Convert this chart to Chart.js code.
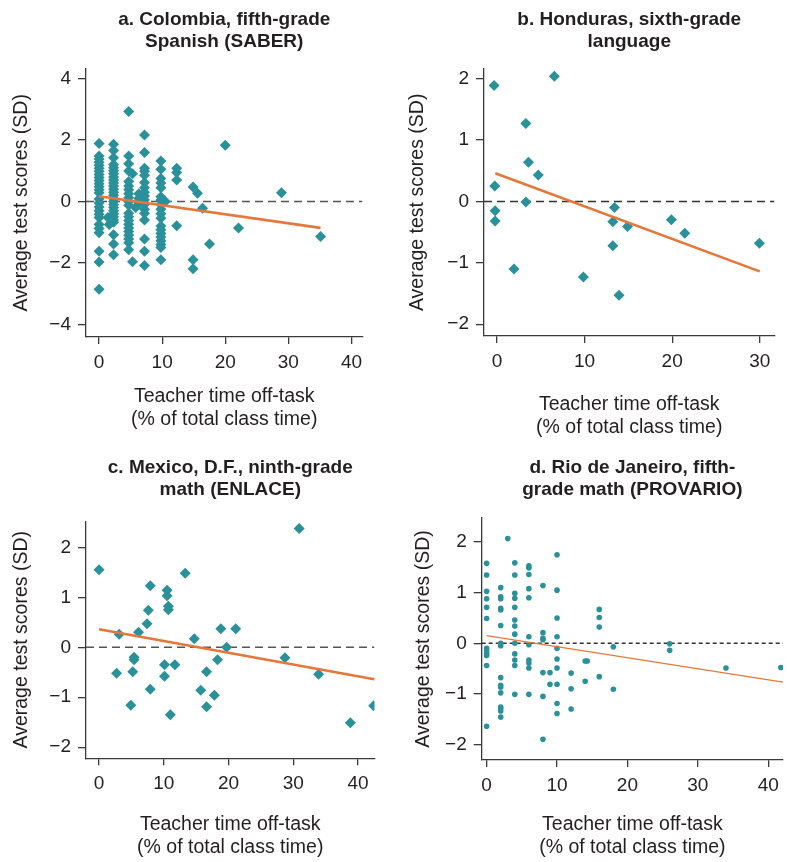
<!DOCTYPE html>
<html>
<head>
<meta charset="utf-8">
<script src="https://cdn.jsdelivr.net/npm/chart.js@4.4.1/dist/chart.umd.min.js"></script>
<style>
  html, body { margin: 0; padding: 0; background: #fff; width: 787px; height: 862px; overflow: hidden; }
  canvas { position: absolute; }
</style>
</head>
<body>
<canvas id="ca" width="368" height="440" style="left:0px;top:0px"></canvas>
<canvas id="cb" width="385" height="440" style="left:395px;top:0px"></canvas>
<canvas id="cc" width="380" height="422" style="left:0px;top:440px"></canvas>
<canvas id="cd" width="392" height="422" style="left:395px;top:440px"></canvas>
<script>
// ---------- DATA ----------
// a. Colombia, fifth-grade Spanish (SABER)
const colombiaX = [
  0,0,0,0,0,0,0,0,0,0,0,0,0,0,0,0,0,0,0,0,0,0,0,0,0,0,
  2.3,2.3,2.3,2.3,2.3,2.3,2.3,2.3,2.3,2.3,2.3,2.3,2.3,2.3,2.3,2.3,2.3,2.3,2.3,2.3,2.3,2.3,2.3,2.3,2.3,2.3,
  1.4,1.6,1.9,
  4.7,4.7,4.7,4.7,4.7,4.7,4.7,4.7,4.7,4.7,4.7,4.7,4.7,4.7,4.7,4.7,4.7,4.7,4.7,4.7,4.7,
  5.3,5.3,5.8,
  7.2,7.2,7.2,7.2,7.2,7.2,7.2,7.2,7.2,7.2,7.2,7.2,7.2,7.2,7.2,7.2,7.2,
  6.3,6.3,6.3,
  9.8,9.8,9.8,9.8,9.8,9.8,9.8,9.8,9.8,9.8,9.8,9.8,9.8,9.8,9.8,9.8,9.8,9.8,9.8,
  10.5,
  12.3,12.3,12.3,12.3,
  14.9,15.6,16.4,17.5,14.9,14.9,20,22.1,28.9,35.1
];
const colombiaY = [
  1.89,1.48,1.38,1.28,1.18,1.08,0.98,0.88,0.78,0.68,0.58,0.48,0.38,0.28,0.08,-0.05,-0.18,-0.3,-0.42,-0.52,-0.75,-0.88,-1.02,-1.62,-1.97,-2.86,
  1.86,1.66,1.42,1.2,1.1,1.0,0.9,0.8,0.7,0.6,0.5,0.4,0.3,0.2,0.1,0.0,-0.1,-0.2,-0.3,-0.4,-0.5,-0.6,-0.68,-1.08,-1.38,-1.73,
  -0.52,-0.75,-0.62,
  2.93,1.48,1.23,0.99,0.65,0.5,0.38,0.25,0.12,0.0,-0.12,-0.38,-0.5,-0.62,-0.74,-0.86,-0.98,-1.1,-1.22,-1.34,-1.57,
  0.9,-1.96,-0.2,
  2.16,1.59,1.08,0.98,0.85,0.62,0.45,0.3,0.18,0.05,-0.1,-0.25,-0.38,-0.6,-1.22,-1.62,-2.08,
  0.25,0.1,-0.05,
  1.32,1.05,0.75,0.6,0.45,0.15,0.05,-0.1,-0.25,-0.4,-0.55,-0.8,-0.92,-1.04,-1.16,-1.28,-1.4,-1.5,-1.9,
  0.0,
  1.08,0.94,0.70,-0.79,
  0.47,0.27,-0.22,-1.38,-1.90,-2.19,1.83,-0.86,0.28,-1.14
];
const colombiaFitX = [0, 35.1];
const colombiaFitY = [0.17, -0.86];

// b. Honduras, sixth-grade language
const hondurasX = [-0.34,6.54,3.29,3.59,4.71,-0.26,-0.22,-0.22,3.29,1.94,9.86,13.41,13.22,14.9,13.22,13.93,19.91,21.44,29.96];
const hondurasY = [1.89,2.04,1.27,0.64,0.43,0.25,-0.15,-0.32,-0.01,-1.10,-1.23,-0.10,-0.33,-0.41,-0.72,-1.53,-0.30,-0.52,-0.68];
const hondurasFitX = [-0.2, 30];
const hondurasFitY = [0.46, -1.14];

// c. Mexico, D.F., ninth-grade math (ENLACE)
const mexicoX = [0,30.9,13.3,7.9,10.5,10.5,10.7,10.7,7.6,7.4,6.1,3.1,14.7,18.8,21.1,19.7,5.4,5.4,18.3,28.7,2.7,5.2,10.1,11.7,10.1,16.6,33.9,7.9,15.7,17.8,4.9,16.6,11.0,42.4,38.8];
const mexicoY = [1.55,2.38,1.48,1.23,1.14,1.03,0.82,0.75,0.74,0.47,0.30,0.26,0.17,0.37,0.37,0.0,-0.20,-0.25,-0.25,-0.21,-0.52,-0.49,-0.35,-0.35,-0.58,-0.49,-0.54,-0.84,-0.86,-0.96,-1.16,-1.19,-1.35,-1.17,-1.51];
const mexicoFitX = [0, 42.5];
const mexicoFitY = [0.36, -0.64];

// d. Rio de Janeiro, fifth-grade math (PROVARIO)
const rioX = [
  0,0,0,0,0,0,0,0,0,0,0,0,
  2,2,2,2,2,2,2,2,2,2,2,2,2,2,2,2,
  3,
  4,4,4,4,4,4,4,4,4,4,4,4,4,
  6,6,6,6,6,6,6,6,6,6,6,
  8,8,8,8,8,8,8,
  9,9,
  10,10,10,10,10,10,10,10,10,10,
  12,12,12,
  14,14,14.3,
  16,16,16,16,
  18,18,
  26,26,
  34,41.8
];
const rioY = [
  1.58,1.35,1.03,0.88,0.71,0.49,-0.10,-0.15,-0.20,-0.24,-0.44,-1.64,
  1.10,0.92,0.88,0.69,0.66,0.35,0.0,-0.05,-0.68,-0.83,-0.87,-0.98,-1.26,-1.29,-1.34,-1.46,
  2.07,
  1.59,1.35,0.99,0.89,0.71,0.46,0.34,0.18,0.0,-0.21,-0.33,-0.44,-1.01,
  1.53,1.49,1.36,1.08,0.90,0.13,-0.03,-0.33,-0.39,-0.49,-1.01,
  1.14,0.21,0.10,0.07,-0.58,-1.05,-1.90,
  -0.58,-0.81,
  1.75,1.05,0.50,0.13,-0.10,-0.31,-0.49,-0.81,-1.19,-1.39,
  -0.59,-0.90,-1.30,
  -0.35,-0.75,-0.35,
  0.67,0.51,0.32,-0.66,
  -0.07,-0.91,
  -0.01,-0.14,
  -0.49,-0.48
];
const rioFitX = [0, 42.1];
const rioFitY = [0.15, -0.77];

// tick labels
const ticksA_X = [0, 10, 20, 30, 40];
const ticksA_Y = [-4, -2, 0, 2, 4];
const ticksB_X = [0, 10, 20, 30];
const ticksB_Y = [-2, -1, 0, 1, 2];
const ticksC_X = [0, 10, 20, 30, 40];
const ticksC_Y = [-2, -1, 0, 1, 2];
const ticksD_X = [0, 10, 20, 30, 40];
const ticksD_Y = [-2, -1, 0, 1, 2];

// ---------- STYLE ----------
const TEAL = '#2a919b';
const ORANGE = '#e6773a';
const INK = '#231f20';
const AXIS = '#3a3a3a';
const FONT = "'Liberation Sans', Arial, sans-serif";
const X_TITLE = ['Teacher time off-task', '(% of total class time)'];
const Y_TITLE = 'Average test scores (SD)';

function pts(xs, ys) { return xs.map((x, i) => ({ x: x, y: ys[i] })); }
function fmt(v) { return v < 0 ? '\u2212' + Math.abs(v) : String(v); }

function makeChart(id, c) {
  return new Chart(document.getElementById(id), {
    type: 'scatter',
    data: {
      datasets: [
        { data: pts(c.fitX, c.fitY), showLine: true, borderColor: ORANGE, borderWidth: c.fitW,
          pointRadius: 0, fill: false, clip: false },
        { data: pts(c.x, c.y), showLine: false, pointStyle: c.style, pointRadius: c.r,
          backgroundColor: TEAL, borderColor: TEAL, borderWidth: 0 },
        { data: [{ x: c.xMin, y: 0 }, { x: c.xMax, y: 0 }], showLine: true, borderColor: c.dashColor,
          borderWidth: c.dashW, borderDash: c.dash, pointRadius: 0, fill: false }
      ]
    },
    options: {
      responsive: false, animation: false, events: [],
      layout: { padding: 0 },
      plugins: {
        legend: { display: false },
        tooltip: { enabled: false },
        title: {
          display: true, fullSize: false, text: c.title, color: INK,
          font: { family: FONT, size: 19, weight: 'bold', lineHeight: 1.15 },
          padding: { top: c.tTop, bottom: c.tBottom }
        }
      },
      scales: {
        x: {
          type: 'linear', position: 'bottom', min: c.xMin, max: c.xMax,
          afterBuildTicks: s => { s.ticks = c.xTicks.map(v => ({ value: v })); },
          afterFit: s => { s.height = c.xH; s.paddingLeft = 0; s.paddingRight = 0; },
          grid: { display: true, drawOnChartArea: false, drawTicks: true, tickLength: 7, color: AXIS, lineWidth: 1.3 },
          border: { display: true, color: AXIS, width: 1.3 },
          ticks: { color: INK, font: { family: FONT, size: 19 }, padding: 7, maxRotation: 0, autoSkip: false,
                   callback: v => fmt(v) },
          title: { display: true, text: X_TITLE, color: INK, font: { family: FONT, size: 19.5, lineHeight: 1.17 },
                   padding: { top: 0, bottom: c.xtPad } }
        },
        y: {
          type: 'linear', position: 'left', min: c.yMin, max: c.yMax,
          afterBuildTicks: s => { s.ticks = c.yTicks.map(v => ({ value: v })); },
          afterFit: s => { s.width = c.yW; s.paddingTop = 0; s.paddingBottom = 0; },
          grid: { display: true, drawOnChartArea: false, drawTicks: true, tickLength: 8, color: AXIS, lineWidth: 1.3 },
          border: { display: true, color: AXIS, width: 1.3 },
          ticks: { color: INK, font: { family: FONT, size: 19 }, padding: 7, autoSkip: false,
                   callback: v => fmt(v) },
          title: { display: true, text: Y_TITLE, color: INK, font: { family: FONT, size: 19.5, lineHeight: 1.2 },
                   padding: { top: c.ytPad, bottom: 0 } }
        }
      }
    }
  });
}

makeChart('ca', {
  title: ['a. Colombia, fifth-grade', 'Spanish (SABER)'],
  x: colombiaX, y: colombiaY, fitX: colombiaFitX, fitY: colombiaFitY,
  xTicks: ticksA_X, yTicks: ticksA_Y,
  xMin: -2.07, xMax: 41.75, yMin: -4.41, yMax: 4.32,
  style: 'rectRot', r: 5.5, fitW: 2.6, dash: [8, 5], dashW: 1.6, dashColor: '#555',
  tTop: 9, tBottom: 16, xH: 103, yW: 86, xtPad: 9, ytPad: 10
});
makeChart('cb', {
  title: ['b. Honduras, sixth-grade', 'language'],
  x: hondurasX, y: hondurasY, fitX: hondurasFitX, fitY: hondurasFitY,
  xTicks: ticksB_X, yTicks: ticksB_Y,
  xMin: -1.49, xMax: 31.69, yMin: -2.193, yMax: 2.164,
  style: 'rectRot', r: 5.5, fitW: 2.6, dash: [8, 5], dashW: 1.6, dashColor: '#333',
  tTop: 9, tBottom: 16, xH: 104, yW: 89, xtPad: 1, ytPad: 11
});
makeChart('cc', {
  title: ['c. Mexico, D.F., ninth-grade', 'math (ENLACE)'],
  x: mexicoX, y: mexicoY, fitX: mexicoFitX, fitY: mexicoFitY,
  xTicks: ticksC_X, yTicks: ticksC_Y,
  xMin: -2.02, xMax: 42.53, yMin: -2.223, yMax: 2.524,
  style: 'rectRot', r: 5.5, fitW: 2.6, dash: [8, 5], dashW: 1.6, dashColor: '#555',
  tTop: 17, tBottom: 20.5, xH: 103.7, yW: 86, xtPad: 3, ytPad: 10
});
makeChart('cd', {
  title: ['d. Rio de Janeiro, fifth-', 'grade math (PROVARIO)'],
  x: rioX, y: rioY, fitX: rioFitX, fitY: rioFitY,
  xTicks: ticksD_X, yTicks: ticksD_Y,
  xMin: -0.7, xMax: 42.1, yMin: -2.308, yMax: 2.479,
  style: 'circle', r: 2.8, fitW: 1.2, dash: [4, 3], dashW: 1.3, dashColor: '#333',
  tTop: 17, tBottom: 17.2, xH: 102, yW: 86.7, xtPad: 3, ytPad: 17
});
</script>
</body>
</html>
